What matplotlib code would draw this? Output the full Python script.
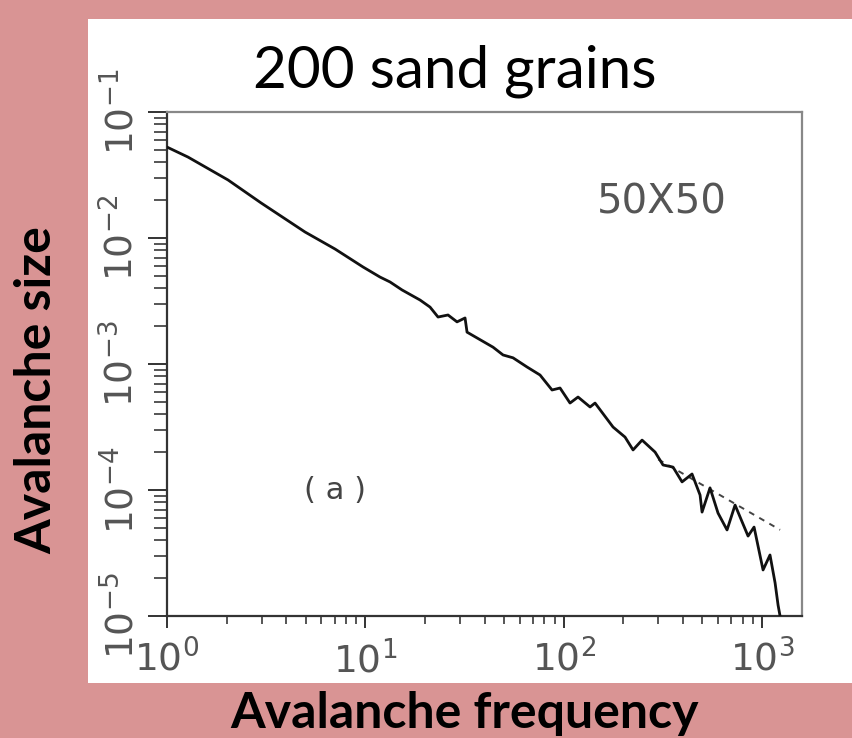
import matplotlib
matplotlib.use('Agg')
import matplotlib.pyplot as plt
from matplotlib.patches import Rectangle
from matplotlib.ticker import LogLocator

# avalanche curve
freq = [1.0, 1.276, 2.03, 2.979, 4.966, 7.035, 9.737, 11.86, 13.32, 15.32,
        18.88, 21.2, 23.26, 26.12, 29.0, 31.83, 32.58, 36.6, 44.06, 49.48,
        55.57, 65.38, 76.03, 87.4, 95.9, 107.7, 118.2, 135.9, 144.0, 177.5,
        204.0, 223.9, 248.6, 289.1, 317.1, 356.2, 395.5, 444.1, 487.5, 498.9,
        547.2, 600.6, 666.8, 731.9, 851.1, 912.6, 1013, 1098, 1165, 1206, 1234]
size = [0.0527, 0.0439, 0.0289, 0.019, 0.01116, 0.00818, 0.00589, 0.0049, 0.00448, 0.00387,
        0.00322, 0.00283, 0.00236, 0.00245, 0.00216, 0.00232, 0.00179, 0.00161, 0.00136, 0.00118,
        0.00112, 0.000947, 0.000818, 0.000622, 0.000645, 0.00049, 0.000547, 0.000456, 0.00049, 0.000316,
        0.000263, 0.000208, 0.000249, 0.0002, 0.000158, 0.000152, 0.000116, 0.000134, 9.12e-5, 6.68e-5,
        1.04e-4, 6.56e-5, 4.82e-5, 7.6e-5, 4.31e-5, 5.08e-5, 2.32e-5, 3.05e-5, 1.83e-5, 1.22e-5, 1.0e-5]

# dashed power-law guide in the tail
fit_x = [300, 1234]
fit_y = [1.75e-4, 4.83e-5]

pink = '#D99494'

plt.rcParams['font.family'] = ['DejaVu Sans']
plt.rcParams['mathtext.default'] = 'regular'

fig = plt.figure(figsize=(8.53, 7.38), dpi=100)
fig.patch.set_facecolor(pink)

# white slide panel behind the plot
panel = Rectangle((0.1032, 0.0745), 0.8968, 0.8997, transform=fig.transFigure,
                  facecolor='white', edgecolor='none', zorder=-10)
fig.add_artist(panel)

ax = fig.add_axes([0.1958, 0.1653, 0.7444, 0.6829])
ax.set_facecolor('white')
ax.set_zorder(1)

ax.plot(fit_x, fit_y, color='#444444', lw=1.4, ls=(0, (3, 3)), zorder=2)
ax.plot(freq, size, color='#111111', lw=2.0, zorder=3)

ax.set_xscale('log')
ax.set_yscale('log')
ax.set_xlim(1, 1592)
ax.set_ylim(1e-5, 1e-1)

ax.xaxis.set_major_locator(LogLocator(base=10, numticks=10))
ax.yaxis.set_major_locator(LogLocator(base=10, numticks=10))
ax.xaxis.set_minor_locator(LogLocator(base=10, subs=range(2, 10), numticks=20))
ax.yaxis.set_minor_locator(LogLocator(base=10, subs=range(2, 10), numticks=20))

for side in ['left', 'bottom']:
    ax.spines[side].set_color('#333333')
    ax.spines[side].set_linewidth(1.6)
for side in ['top', 'right']:
    ax.spines[side].set_color('#888888')
    ax.spines[side].set_linewidth(1.6)

ax.tick_params(axis='x', which='major', direction='out', length=8.6, width=1.4,
               color='#333333', pad=9, labelsize=27, labelcolor='#555555')
ax.tick_params(axis='x', which='minor', direction='out', length=5.8, width=1.4, color='#555555')
ax.tick_params(axis='y', which='major', direction='out', length=13.7, width=1.4,
               color='#333333', pad=5, labelsize=27, labelcolor='#555555')
ax.tick_params(axis='y', which='minor', direction='out', length=9.4, width=1.4, color='#555555')
for lab in ax.get_yticklabels():
    lab.set_rotation(90)
    lab.set_va('center')

ax.text(0.78, 0.82, '50X50', transform=ax.transAxes, ha='center', va='center',
        fontsize=29, color='#555555')
ax.text(0.265, 0.25, '( a )', transform=ax.transAxes, ha='center', va='center',
        fontsize=22, color='#444444')

fig.text(0.5334, 0.882, '200 sand grains', ha='center', va='baseline',
         fontsize=42, family=['Lato', 'DejaVu Sans'])
fig.text(0.0434, 0.4715, 'Avalanche size', ha='center', va='center', rotation=90,
         fontsize=36, fontweight='bold', family=['Lato', 'DejaVu Sans'])
fig.text(0.545, 0.0136, 'Avalanche frequency', ha='center', va='baseline',
         fontsize=36, fontweight='bold', family=['Lato', 'DejaVu Sans'])

fig.savefig('out.png', dpi=100, facecolor=fig.get_facecolor())
